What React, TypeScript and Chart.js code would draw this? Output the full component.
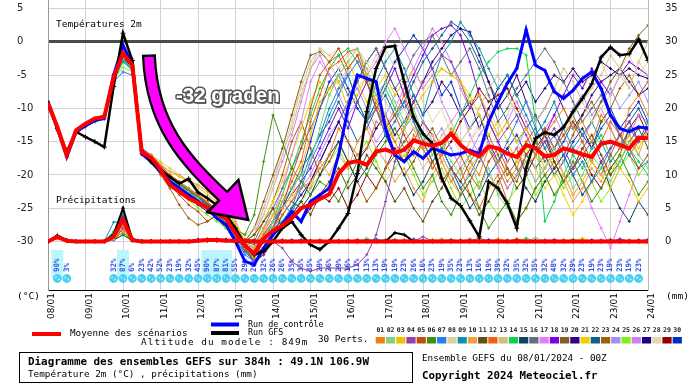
import { useEffect, useRef } from "react";
import { Chart, registerables } from "chart.js";

Chart.register(...registerables);

// hours from 08/01 00Z
const hours = [0,6,12,18,24,30,36,42,48,54,60,66,72,78,84,90,96,102,108,114,120,126,132,138,144,150,156,162,168,174,180,186,192,198,204,210,216,222,228,234,240,246,252,258,264,270,276,282,288,294,300,306,312,318,324,330,336,342,348,354,360,366,372,378,384];
const dateLabels = ["08/01","09/01","10/01","11/01","12/01","13/01","14/01","15/01","16/01","17/01","18/01","19/01","20/01","21/01","22/01","23/01","24/01"];
const precipProb = [0,90,3,0,0,0,0,32,87,6,23,42,52,23,19,32,45,90,87,81,55,29,26,32,26,26,35,35,35,29,26,29,16,13,13,13,19,19,23,26,16,23,19,35,23,13,16,19,39,32,35,32,35,32,48,32,29,23,19,23,19,23,19,23,0];

const meanTemp = [-9.2,-12.8,-17,-13.3,-12.3,-11.5,-11.3,-5.3,-1.7,-3.5,-16.6,-17.4,-19.2,-21.5,-22.5,-23.5,-24.2,-24.9,-25.8,-26.6,-28.8,-30.6,-31.8,-29.6,-28.4,-27.6,-26.5,-25,-24.5,-23.6,-22.9,-19.8,-18.2,-17.9,-18.5,-16.5,-16.2,-16.7,-16.2,-14.8,-15.3,-15.6,-15.2,-13.8,-15.5,-16.6,-17.2,-15.7,-16,-16.8,-17.3,-15.5,-16,-17.2,-17,-16,-16.4,-16.9,-17.3,-15.3,-15,-15.5,-16,-14.4,-14.5];
const controlTemp = [-9,-13,-17.3,-13.5,-12.6,-11.8,-11.5,-5,-0.5,-3.5,-16.8,-18,-19.5,-21,-22,-23,-24,-25,-26.5,-27.5,-30,-33,-33.5,-31,-29,-27.5,-25.5,-27,-24,-23,-22,-17,-10,-5,-5.5,-6,-13,-17,-18,-16.5,-17.5,-16,-16.5,-17,-16.8,-16.3,-16.8,-12,-9,-6.2,-4,1.8,-3.5,-4.3,-7.5,-8.5,-7.3,-5.5,-4.5,-7,-11,-13,-13.5,-12.8,-13];
const gfsTemp = [-9.5,-13,-16.5,-13.5,-14.3,-15,-15.8,-6.7,1.3,-2.8,-16.3,-18,-19.2,-20.3,-21.3,-20.6,-22.6,-23.5,-24.5,-26,-28,-30.5,-32,-31.5,-30,-28,-27,-29,-30.5,-31.2,-30,-28,-25.8,-19.8,-10.5,-4,-0.8,-0.6,-6,-11.3,-13.8,-15.3,-20.5,-23.5,-24.6,-26.9,-29.3,-21,-22,-24.3,-28,-19,-14.5,-13.6,-14,-12.8,-10.5,-8.5,-6.3,-2.3,-0.8,-2,-1.8,0.4,-2.8];

const meanPrecip = [0,0.7,0.1,0,0,0,0,0.7,3.3,0.2,0,0,0,0,0,0,0.1,0.2,0.2,0.1,0.1,0.1,0,0,0,0,0,0,0,0,0,0,0,0,0,0,0,0,0,0,0,0,0,0,0,0,0,0,0,0,0,0,0,0,0,0,0,0,0,0,0,0,0,0,0];
const controlPrecip = [0,0.8,0.1,0,0,0,0,0.8,3.5,0.2,0,0,0,0,0,0,0.1,0.2,0.2,0.2,0,0,0,0,0,0,0,0,0,0,0,0,0,0,0,0,0,0,0,0,0,0,0,0,0,0,0,0,0,0,0,0,0,0,0,0,0,0,0,0,0,0,0,0,0];
const gfsPrecip = [0,0.9,0.2,0,0,0,0,1,5,0.3,0,0,0,0,0,0,0.2,0.2,0.2,0.2,0,0,0,0,0,0,0,0,0,0,0,0,0,0,0,0,0,1.3,1,0,0,0,0,0,0,0,0,0,0,0,0,0,0,0,0,0,0,0,0,0,0,0,0,0,0];

const pert01T = [-9.2,-13.2,-17,-13.4,-12.4,-11.6,-11,-5,-1.5,-3.2,-16.3,-17.2,-18.8,-20,-21,-22,-23,-24,-25.5,-26.8,-28.8,-31,-32.5,-30,-28,-26,-24,-22,-21,-19,-17,-13,-15,-17,-16,-12,-13,-15,-18,-14,-16,-19,-17,-13,-15,-18,-20,-16,-18,-21,-19,-15,-17,-14,-12,-10,-13,-12,-15,-11,-13,-16,-10,-8,-11];
const pert02T = [-8.8,-12.8,-16.8,-13.6,-12.6,-11.9,-11.4,-5.6,-2.5,-4,-16.8,-17.8,-19.2,-20.6,-21.5,-22.6,-23.5,-24.8,-25.8,-27,-29,-30.5,-31.5,-29.5,-27,-24,-22,-20,-18,-13,-8,-5,-3,-1,-4,-8,-6,-9,-12,-10,-14,-17,-15,-18,-20,-17,-22,-19,-23,-25,-20,-18,-21,-19,-16,-18,-22,-20,-17,-19,-21,-18,-15,-17,-19];
const pert03T = [-9.1,-13,-17.2,-13.5,-12.5,-11.7,-11.2,-5.2,-1.2,-3,-16.5,-17,-18.3,-19.5,-20.3,-21,-21.8,-23,-24,-25.5,-27.5,-30,-31,-28.5,-26,-25,-23,-19,-14,-9,-7,-6,-10,-8,-5,-9,-12,-15,-13,-10,-8,-6,-4,-5,-6,-9,-8,-11,-14,-12,-15,-13,-16,-19,-17,-20,-23,-21,-18,-20,-22,-19,-21,-24,-22];
const pert04T = [-9,-13.1,-17.1,-13.3,-12.3,-11.5,-11,-4.8,-0.8,-2.8,-16,-17,-18.5,-20,-21,-22,-23,-24.2,-25.2,-26.3,-28.5,-31.5,-33,-32,-30,-31,-33,-34,-34.5,-34,-34,-34,-34,-33.5,-32,-29,-24,-18,-13,-9,-6,-4,-2,-3,-6,-10,-8,-12,-15,-13,-11,-14,-17,-15,-13,-16,-19,-17,-15,-18,-16,-14,-12,-15,-13];
const pert05T = [-9.3,-13.3,-17,-13.6,-12.7,-12,-11.5,-5.5,-2,-3.8,-16.6,-17.6,-19.5,-21.5,-23,-24.5,-25.5,-27,-26,-27.5,-29,-31,-32,-30,-28,-25,-20,-16,-10,-5,-3,-1,-4,-2,-6,-10,-13,-11,-14,-17,-15,-18,-21,-19,-17,-20,-22,-18,-16,-19,-21,-17,-15,-13,-16,-14,-12,-15,-18,-20,-17,-14,-16,-19,-17];
const pert06T = [-9,-12.9,-16.9,-13.4,-12.4,-11.7,-11.2,-5.4,-2.2,-3.6,-16.4,-17.4,-18.9,-20.4,-21.3,-22.3,-23.2,-24.3,-25.3,-26.4,-28.2,-29,-26,-18,-11,-15,-19,-21,-23,-21,-22,-24,-21,-18,-20,-17,-15,-13,-16,-19,-22,-20,-24,-26,-23,-21,-25,-28,-26,-24,-27,-25,-22,-20,-23,-21,-18,-21,-24,-22,-19,-17,-20,-23,-21];
const pert07T = [-9.2,-13,-17.1,-13.5,-12.5,-11.8,-11.3,-6,-4.5,-5,-17,-18,-19.5,-21,-22,-23,-24,-25,-26,-27.5,-29.5,-32,-33,-31,-28,-24,-26,-22,-18,-15,-11,-8,-5,-3,-6,-10,-14,-12,-9,-12,-15,-18,-16,-19,-22,-20,-17,-20,-18,-15,-12,-9,-13,-16,-14,-17,-20,-18,-21,-19,-16,-14,-17,-19,-18];
const pert08T = [-9,-13,-17,-13.4,-12.4,-11.6,-11.1,-5.1,-1.4,-3.3,-16.2,-17.3,-18.7,-20.2,-21.1,-22.1,-23.1,-24.1,-25.1,-26.2,-28,-29,-28,-26,-22,-17,-12,-7,-3,-1,-2,-4,-2,-1,-3,-6,-9,-12,-10,-13,-16,-14,-17,-20,-18,-15,-13,-16,-14,-12,-15,-18,-16,-19,-17,-14,-11,-9,-12,-10,-8,-5,-7,-3,-5];
const pert09T = [-9.4,-13.4,-17.3,-13.7,-12.8,-12,-11.6,-5.8,-3,-4.3,-16.9,-17.9,-19.3,-20.8,-21.7,-22.8,-23.8,-24.9,-26,-27.2,-29.2,-31.5,-32,-30,-28,-27,-25,-21,-17,-14,-10,-7,-5,-9,-12,-6,-3,-1,-4,-8,-11,-6,-2,0,3,1,-1,-4,-7,-5,-8,-11,-14,-12,-9,-13,-16,-14,-12,-15,-18,-16,-13,-15,-12];
const pert10T = [-9.1,-13.1,-17,-13.5,-12.5,-11.8,-11.2,-5.2,-1.6,-3.4,-16.4,-17,-18.5,-19.5,-20,-21,-21.5,-22.5,-23.5,-25,-27,-30,-31,-28,-26,-23,-24,-21,-22,-18,-20,-17,-19,-15,-13,-16,-18,-21,-19,-22,-24,-20,-18,-21,-23,-19,-17,-20,-22,-18,-16,-19,-17,-20,-23,-21,-24,-22,-19,-21,-18,-16,-14,-17,-13];
const pert11T = [-8.9,-12.9,-16.9,-13.3,-12.3,-11.5,-11,-5,-1,-2.9,-16.1,-17.1,-18.6,-20.1,-21.1,-22.1,-23.1,-24.1,-25.1,-26.1,-28.1,-30,-29,-27,-25,-28,-26,-24,-26,-23,-21,-19,-22,-20,-17,-19,-21,-24,-22,-25,-27,-24,-22,-19,-21,-23,-26,-24,-21,-19,-22,-20,-17,-15,-18,-21,-19,-16,-14,-17,-20,-18,-15,-13,-16];
const pert12T = [-9.2,-13.2,-17.1,-13.6,-12.6,-11.8,-11.3,-5.3,-1.8,-3.6,-16.7,-17.7,-19.2,-20.6,-21.6,-22.6,-23.7,-24.7,-25.7,-26.9,-28.9,-31,-31.5,-29,-27,-24,-21,-18,-12,-8,-4,-3,-1.5,-1,-5,-9,-13,-11,-8,-12,-16,-14,-18,-21,-19,-23,-25,-22,-20,-24,-27,-25,-22,-20,-18,-21,-19,-16,-18,-15,-12,-14,-17,-15,-12];
const pert13T = [-9,-13,-17,-13.4,-12.5,-11.7,-11.2,-5.2,-1.5,-3.3,-16.3,-17,-18,-19,-20,-20.8,-21.5,-22.5,-23.8,-25,-27.5,-30,-29,-25,-21,-17,-13,-8,-4,-1,-3,-6,-4,-2,-5,-8,-11,-15,-13,-16,-19,-17,-14,-12,-15,-13,-10,-7,-5,-8,-11,-9,-12,-10,-7,-4,-6,-9,-7,-5,-2,-4,-7,-3,0];
const pert14T = [-9.3,-13.3,-17.2,-13.6,-12.7,-11.9,-11.4,-5.7,-2.8,-4.2,-16.8,-17.8,-19.3,-20.7,-21.7,-22.7,-23.7,-24.8,-25.8,-27,-29,-31,-32,-30,-27,-23,-19,-15,-11,-7,-4,-2,-1,-3,-6,-9,-7,-10,-13,-11,-15,-18,-16,-14,-11,-8,-5,-3,-1.5,-1,-1,-2,-12,-27,-24,-20,-17,-19,-16,-14,-17,-19,-16,-18,-20];
const pert15T = [-9.1,-13.1,-17.1,-13.5,-12.5,-11.7,-11.3,-5.5,-2.6,-4,-16.6,-17.6,-19.1,-20.5,-21.5,-22.5,-23.5,-24.6,-25.6,-26.7,-28.7,-31,-33,-32,-29,-26,-24,-25,-23,-20,-17,-15,-18,-21,-19,-16,-14,-17,-20,-23,-21,-18,-16,-19,-22,-25,-23,-20,-18,-16,-19,-22,-24,-21,-19,-17,-20,-23,-21,-18,-22,-25,-27,-24,-26];
const pert16T = [-9,-13,-17,-13.4,-12.4,-11.6,-11.1,-5.1,-1.3,-3.1,-16.2,-17.2,-18.7,-20.2,-21.1,-22.1,-23.1,-24.2,-25.2,-26.3,-28.3,-30,-30.5,-28,-25,-22,-19,-16,-13,-10,-7,-5,-8,-6,-3,-1,-4,-7,-5,-2,0,1,-2,-5,-3,-1,-4,-8,-12,-10,-7,-5,-3,-1,-3,-6,-9,-12,-10,-8,-11,-14,-12,-15,-13];
const pert17T = [-9.2,-13.2,-17.2,-13.6,-12.6,-11.9,-11.4,-5.4,-0.5,-2.5,-16.5,-17.5,-19,-20.5,-21.5,-22.5,-23.5,-24.6,-25.6,-26.7,-28.7,-30.5,-31.5,-29,-26,-22,-17,-12,-6,-3,-5,-8,-4,-2,-5,-3,0,2,-1,-4,-7,-5,-9,-12,-10,-14,-17,-15,-19,-22,-20,-18,-21,-19,-16,-20,-23,-21,-25,-28,-31,-27,-23,-19,-17];
const pert18T = [-9,-13,-17,-13.4,-12.4,-11.6,-11.1,-5.1,-1.4,-3.2,-16.3,-17.3,-18.8,-20.3,-21.2,-22.2,-23.2,-24.3,-25.3,-26.4,-28.4,-30,-31,-29,-27,-25,-23,-21,-19,-16,-13,-10,-13,-9,-6,-10,-7,-4,-8,-5,-2,1,2,2.5,1,-3,-8,-12,-15,-18,-16,-20,-17,-14,-11,-8,-5,-7,-4,-6,-8,-5,-3,-4,-5];
const pert19T = [-9.1,-13,-17,-13.5,-12.6,-11.8,-11.3,-5.3,-1.9,-3.7,-16.6,-17.6,-19,-20.4,-21.4,-22.4,-23.4,-24.4,-25.4,-26.5,-28.4,-30,-28,-24,-20,-16,-11,-6,-2,-1.5,-3,-2,-5,-9,-12,-10,-14,-17,-15,-13,-16,-19,-17,-20,-23,-21,-18,-16,-19,-22,-20,-17,-15,-18,-16,-13,-11,-14,-12,-9,-6,-4,-1,1,2.5];
const pert20T = [-9.3,-13.3,-17.3,-13.7,-12.7,-11.9,-11.4,-5.5,-2.3,-4,-16.7,-17.7,-19.1,-20.6,-21.6,-22.6,-23.6,-24.7,-25.7,-26.9,-28.9,-31,-32,-31,-29,-27,-25,-23,-21,-18,-15,-12,-15,-18,-16,-13,-11,-14,-12,-9,-6,-3,-1,1,2,1.5,-2,-6,-10,-8,-5,-9,-12,-10,-7,-10,-13,-11,-8,-6,-5,-4,-6,-8,-7];
const pert21T = [-9,-13,-17,-13.4,-12.4,-11.6,-11.1,-5,-1.2,-3,-16.2,-17.2,-18.7,-20.1,-21.1,-22.1,-23.1,-24.1,-25.1,-26.2,-28.2,-30,-29,-27,-24,-21,-17,-13,-9,-6,-8,-5,-3,-6,-9,-7,-5,-8,-6,-4,-7,-5,-4,-5,-6,-8,-11,-14,-12,-15,-18,-16,-19,-22,-20,-23,-26,-24,-21,-18,-20,-17,-14,-16,-13];
const pert22T = [-9.2,-13.1,-17.1,-13.5,-12.5,-11.8,-11.3,-5.6,-2.7,-4.1,-16.7,-17.7,-19.1,-20.6,-21.6,-22.6,-23.6,-24.7,-25.7,-26.8,-28.8,-31,-32,-30,-27,-25,-22,-19,-17,-14,-12,-9,-12,-15,-13,-10,-8,-11,-9,-6,-3,-1,1,3,2,0,-3,-6,-9,-12,-15,-13,-11,-14,-17,-15,-12,-14,-16,-13,-11,-14,-12,-10,-13];
const pert23T = [-9.1,-13.1,-17,-13.5,-12.5,-11.7,-11.2,-5.3,-1.7,-3.5,-16.5,-18,-20,-22,-24.5,-26.5,-27.5,-27,-26,-27.5,-30,-30.5,-30,-27,-24,-20,-15,-12,-16,-20,-18,-15,-18,-21,-24,-22,-19,-17,-20,-18,-15,-13,-16,-19,-21,-18,-16,-14,-17,-20,-18,-15,-13,-16,-19,-17,-14,-11,-9,-12,-10,-7,-5,-8,-6];
const pert24T = [-9,-13,-17,-13.4,-12.4,-11.6,-11.1,-5.2,-1.6,-3.4,-16.4,-17.4,-18.9,-20.4,-21.3,-22.3,-23.3,-24.4,-25.4,-26.5,-28.5,-30.5,-31,-29,-28,-26,-24,-22,-20,-17,-14,-12,-9,-7,-10,-13,-11,-8,-6,-9,-12,-15,-13,-16,-19,-17,-14,-12,-15,-18,-16,-13,-11,-14,-16,-13,-10,-8,-11,-9,-7,-10,-8,-6,-9];
const pert25T = [-9.2,-13.2,-17.1,-13.6,-12.6,-11.8,-11.3,-5.6,-3.8,-4.5,-16.8,-18.3,-19.8,-21.5,-22.5,-23.8,-25,-26,-27,-28,-30,-31.5,-32.5,-31,-29,-27,-25,-24,-22,-20,-18,-16,-19,-17,-15,-18,-21,-19,-17,-20,-23,-21,-19,-22,-25,-23,-21,-24,-26,-24,-22,-20,-23,-21,-19,-22,-20,-18,-21,-24,-22,-19,-17,-20,-18];
const pert26T = [-9.1,-13,-17,-13.5,-12.5,-11.8,-11.2,-5.3,-1.3,-3.2,-16.3,-17.3,-18.8,-20.3,-21.3,-22.3,-23.3,-24.4,-25.4,-26.5,-28.5,-30,-29,-26,-22,-18,-14,-9,-4,-2,-5,-8,-11,-9,-12,-15,-13,-10,-7,-4,-1,2,0,-3,-7,-10,-8,-11,-14,-12,-9,-12,-15,-13,-11,-14,-17,-15,-12,-10,-13,-16,-14,-11,-12];
const pert27T = [-9.3,-13.3,-17.2,-13.7,-12.7,-12,-11.5,-5.6,-2.4,-4,-16.8,-18,-19.5,-21,-22.5,-23.5,-24.5,-25.5,-26.5,-28,-30,-31.5,-33,-32,-30,-28,-26,-24,-21,-18,-15,-12,-9,-6,-3,-1,-4,-7,-10,-8,-11,-9,-6,-8,-11,-9,-13,-10,-7,-5,-8,-6,-9,-7,-5,-6,-4,-6,-5,-3,-4,-5,-4,-5,-5.5];
const pert28T = [-9,-13,-17,-13.4,-12.4,-11.6,-11.1,-5.1,-1.5,-3.3,-16.3,-17.3,-18.8,-20.3,-21.2,-22.2,-23.2,-24.3,-25.3,-26.4,-28.4,-30,-28,-25,-21,-16,-11,-7,-3,-1,-2,-1,-4,-7,-5,-2,-1,-4,-8,-6,-9,-12,-10,-14,-17,-15,-12,-10,-13,-11,-8,-11,-14,-12,-9,-6,-4,-7,-5,-3,-6,-4,-2,-5,-3];
const pert29T = [-9.2,-13.2,-17.1,-13.6,-12.6,-11.8,-11.3,-5.4,-2,-3.8,-16.6,-17.6,-19.1,-20.6,-21.5,-22.5,-23.5,-24.6,-25.6,-26.7,-28.7,-31,-32,-31,-29,-28,-26,-27,-25,-23,-24,-22,-25,-23,-20,-22,-19,-16,-18,-15,-12,-14,-17,-15,-12,-10,-7,-9,-8,-7,-10,-13,-16,-14,-18,-21,-19,-17,-20,-22,-19,-17,-13,-11,-14];
const pert30T = [-9.1,-13.1,-17.1,-13.5,-12.5,-11.7,-11.2,-5.4,-2.2,-3.8,-16.6,-17.6,-19,-20.5,-21.5,-22.5,-23.5,-24.5,-25.5,-26.6,-28.6,-31,-32.5,-30,-28,-25,-22,-20,-15,-10,-6,-4,-7,-10,-12,-9,-6,-3,-1,1,-1,-4,-8,-6,-10,-13,-11,-15,-18,-16,-14,-17,-19,-17,-20,-18,-15,-13,-16,-12,-10,-13,-11,-9,-12];

const pert01P = [0,0.8,0.1,0,0,0,0,0.6,2.5,0.2,0,0,0.1,0,0,0,0.1,0.2,0.1,0.2,0,0.3,0,0,0,0.1,0,0,0,0,0,0,0.2,0,0,0,0,0,0.3,0,0,0,0,0,0,0,0,0,0.4,0,0,0,0,0,0,0.2,0,0,0,0,0.1,0,0,0,0];
const pert02P = [0,0.6,0,0,0,0,0,0.3,3,0.1,0,0.1,0,0,0,0,0,0.3,0.2,0.1,0.2,0,0,0,0,0,0,0,0.2,0,0,0,0,0,0.5,0,0,0,0,0,0,0,0.2,0,0,0,0,0,0,0,0,0,0.6,0,0,0,0,0,0,0.2,0,0,0,0,0];
const pert03P = [0,0.9,0.2,0,0,0,0,0.4,1.5,0.3,0,0,0,0.1,0,0,0,0.1,0.3,0,0,0.2,0.1,0,0,0,0,0,0,0,0,0,0,0,0,0,0.2,0,0,0,0,0.3,0,0,0,0,0,0,0,0,0,0,0,0,0,0,0,0.5,0,0,0,0,0.2,0,0];
const pert04P = [0,0.5,0,0,0,0,0,0.2,2,0.4,0.1,0,0,0,0,0,0.2,0.2,0,0.3,0,0,0,0,0,0,0,0,0,0,0,0,0,0,0,0,0,0,0,0,0.7,0,0,0,0,0,0.2,0,0,0,0,0,0,0,0.3,0,0,0,0,0,0,0.4,0,0,0];
const pert05P = [0,0.7,0.1,0,0,0,0,0.9,3.5,0.2,0,0,0,0,0.1,0,0,0.4,0.2,0.1,0,0.3,0,0,0.2,0,0,0,0,0,0,0,0,0.3,0,0,0,0,0,0,0,0,0,0,0,0.2,0,0,0,0,0.4,0,0,0,0,0,0,0,0,0,0.2,0,0,0,0];
const pert06P = [0,0.6,0,0,0,0,0,0.3,1,0.1,0,0,0,0,0,0,0.1,0,0.2,0.2,0.3,0,0,0.1,0,0,0,0,0,0,0,0,0,0,0,0,0,0.3,0,0,0,0,0,0,0.2,0,0,0,0,0,0,0,0,0,0,0,0.3,0,0,0,0,0,0,0.2,0];
const pert07P = [0,0.9,0.2,0,0,0,0,1.2,4,0.5,0,0.1,0,0,0,0,0.3,0.2,0.4,0.1,0,0,0.2,0,0,0,0,0.3,0,0,0,0,0,0,0,0,0,0,0,0.4,0,0,0,0,0,0,0,0.3,0,0,0,0,0,0,0,0,0,0,0.2,0,0,0,0,0,0.3];
const pert08P = [0,0.4,0,0,0,0,0,0.2,2,0.1,0,0,0,0.1,0,0,0,0.2,0,0.1,0,0.1,0,0,0,0,0,0,0,0,0,0.3,0,0,0,0,0,0,0,0,0,0,0,0.2,0,0,0,0,0,0,0,0,0,0.3,0,0,0,0,0,0,0,0,0,0,0];
const pert09P = [0,0.8,0.1,0,0,0,0,2.9,3,0.3,0,0,0.1,0,0,0,0.2,0.3,0.2,0.2,0.1,0,0,0,0,0,0.2,0,0,0,0,0,0,0,0,0.4,0,0,0,0,0,0,0,0,0,0,0,0,0,0.2,0,0,0,0,0,0,0,0,0,0,0.3,0,0,0,0];
const pert10P = [0,0.7,0,0,0,0,0,0.5,2.5,0.2,0,0,0,0,0,0,0,0.1,0.3,0,0.2,0,0,0,0,0,0,0,0,0.3,0,0,0,0,0,0,0,0,0,0,0,0,0.4,0,0,0,0,0,0,0,0,0.2,0,0,0,0,0,0,0,0,0,0,0,0,0];
const pert11P = [0,0.5,0.1,0,0,0,0,0.3,1.5,0.1,0,0,0,0,0,0.1,0,0.2,0.1,0.2,0,0,0.1,0,0,0,0,0,0,0,0,0,0,0,0,0,0,0,0.2,0,0,0,0,0,0,0,0.5,0,0,0,0,0,0,0,0,0,0,0,0,0,0,0.2,0,0,0];
const pert12P = [0,0.8,0.1,0,0,0,0,0.7,3,0.3,0,0.1,0,0,0,0,0.2,0.2,0.2,0.3,0,0.2,0,0,0,0.3,0,0,0,0,0,0,0,0,0,0,0,0,0,0,0,0,0,0,0,0.3,0,0,0,0,0,0,0,0,0,0,0,0.2,0,0,0,0,0,0,0];
const pert13P = [0,0.6,0,0,0,0,0,0.4,2,0.2,0,0,0,0,0.1,0,0,0.3,0,0.1,0.2,0,0,0,0,0,0,0,0,0,0,0,0.2,0,0,0,0,0,0,0,0,0,0,0,0,0,0,0,0.3,0,0,0,0,0,0,0,0,0,0,0,0.4,0,0,0,0];
const pert14P = [0,0.9,0.2,0,0,0,0,1.5,4.5,0.4,0,0,0.1,0,0,0,0.1,0.4,0.3,0.2,0,0.3,0,0,0,0,0,0,0,0,0,0,0,0,0,0,0,0.2,0,0,0,0,0,0,0,0,0,0,0,0,0,0.5,0,0,0,0,0,0,0,0,0,0,0.2,0,0];
const pert15P = [0,0.5,0,0,0,0,0,0.2,1,0.1,0,0,0,0,0,0,0.2,0.1,0.2,0,0,0,0,0.2,0,0,0,0,0,0,0,0,0,0,0.3,0,0,0,0,0,0,0,0,0,0,0,0,0,0,0,0,0,0,0,0.2,0,0,0,0,0,0,0,0,0,0.3];
const pert16P = [0,0.7,0.1,0,0,0,0,0.6,2.5,0.2,0,0,0,0.1,0,0,0,0.2,0.2,0.2,0,0,0.2,0,0,0,0,0,0.2,0,0,0,0,0,0,0,0,0,0,0,0,0.3,0,0,0,0,0,0,0,0,0,0,0,0,0,0,0.2,0,0,0,0,0,0,0,0];
const pert17P = [0,0.8,0.1,0,0,0,0,0.8,3,0.3,0,0,0,0,0,0,0.1,0.3,0.1,0.1,0.3,0,0,0,0,0,0,0,0,0,0,0,0,0.2,0,0,0,0,0,0,0,0,0,0,0,0.4,0,0,0,0,0,0,0,0,0,0,0,0,0,0.3,0,0,0,0,0];
const pert18P = [0,0.6,0,0,0,0,0,0.4,2,0.2,0,0,0.1,0,0,0,0.2,0.2,0.2,0.2,0,0.2,0,0,0,0,0,0,0,0,0,0,0,0,0,0,0.3,0,0,0,0,0,0,0,0,0,0,0,0,0,0,0,0.2,0,0,0,0,0,0,0,0,0,0,0.2,0];
const pert19P = [0,0.5,0.1,0,0,0,0,0.3,1.5,0.1,0,0,0,0,0,0,0,0.1,0.3,0,0,0,0,0,0.2,0,0,0,0,0,0,0,0,0,0,0,0,0,0,0,0.2,0,0,0,0,0,0,0,0,0,0,0,0,0.3,0,0,0,0,0,0,0,0,0,0,0];
const pert20P = [0,0.9,0.2,0,0,0,0,1,3.5,0.4,0,0.1,0,0,0,0,0.3,0.3,0.2,0.3,0,0,0,0,0,0,0.2,0,0,0,0,0,0,0,0,0,0,0,0,0,0,0,0,0.3,0,0,0,0,0,0,0,0,0,0,0,0,0,0,0.2,0,0,0,0,0,0];
const pert21P = [0,0.7,0.1,0,0,0,0,0.5,2,0.2,0,0,0,0,0,0.1,0,0.2,0.1,0.1,0.2,0,0,0,0,0,0,0,0,0,0,0,0,0,0,0,0,0,0,0.3,0,0,0,0,0,0,0,0,0,0,0,0,0,0,0,0.3,0,0,0,0,0,0,0,0,0];
const pert22P = [0,0.8,0.1,0,0,0,0,1.4,4,0.4,0,0,0,0,0,0,0.2,0.3,0.3,0.2,0,0.3,0,0,0,0,0,0,0,0,0,0,0,0,0,0,0,0,0,0,0,0,0.2,0,0,0,0,0,0,0,0,0,0,0,0,0,0,0,0,0,0,0.3,0,0,0];
const pert23P = [0,0.6,0,0,0,0,0,0.6,2.5,0.2,0,0,0.1,0,0,0,0,0.2,0.2,0.1,0,0,0.2,0,0,0,0,0,0,0,0,0,0,0,0,0.2,0,0,0,0,0,0,0,0,0,0,0,0,0,0,0.3,0,0,0,0,0,0,0,0,0,0,0,0,0,0.2];
const pert24P = [0,0.4,0,0,0,0,0,0.2,1,0.1,0,0,0,0,0,0,0.1,0.1,0.1,0.2,0,0,0,0,0,0,0,0,0,0,0,0,0,0,0,0,0,0,0,0,0,0,0,0,0,0,0,0.2,0,0,0,0,0,0,0,0,0,0,0,0,0,0,0,0,0];
const pert25P = [0,0.8,0.2,0,0,0,0,0.8,3,0.3,0,0,0,0.1,0,0,0.2,0.3,0.2,0.2,0.2,0,0,0,0,0,0,0,0,0,0,0,0,0,0,0,0,0,0,0,0,0,0,0,0.2,0,0,0,0,0,0,0,0,0,0,0,0,0,0,0,0,0,0,0,0];
const pert26P = [0,0.7,0.1,0,0,0,0,0.4,2,0.2,0,0,0,0,0,0,0,0.2,0.2,0.1,0,0,0,0,0,0,0,0,0,0.2,0,0,0,0,0,0,0,0,0,0,0,0,0,0,0,0,0,0,0,0,0,0,0,0,0,0,0.2,0,0,0,0,0,0,0,0];
const pert27P = [0,0.9,0.2,0,0,0,0,1.1,3.5,0.4,0,0.1,0,0,0,0,0.2,0.3,0.3,0.2,0,0.2,0,0,0,0,0,0,0,0,0,0,0,0,0,0,0,0,0,0,0,0,0,0,0,0,0,0,0,0,0,0,0,0,0,0,0,0,0,0,0,0,0,0,0];
const pert28P = [0,0.5,0,0,0,0,0,0.3,1.5,0.1,0,0,0,0,0,0,0.1,0.2,0,0.1,0,0,0,0,0,0,0,0,0,0,0,0,0,0,0,0,0,0,0,0,0,0,0,0,0,0,0,0,0,0,0,0,0,0,0,0,0,0,0,0,0,0,0,0,0];
const pert29P = [0,0.7,0.1,0,0,0,0,0.6,2.5,0.2,0,0,0,0,0,0,0.2,0.2,0.2,0.2,0.2,0,0,0,0,0,0,0,0,0,0,0,0,0,0,0,0,0,0,0,0,0,0,0,0,0,0,0,0,0,0,0,0,0,0,0,0,0,0,0,0,0,0,0,0];
const pert30P = [0,0.8,0.1,0,0,0,0,0.7,3,0.3,0,0,0,0,0.1,0,0.2,0.2,0.3,0.2,0,0.2,0,0,0,0,0,0,0,0,0,0,0,0,0,0,0,0,0,0,0,0,0,0,0,0,0,0,0,0,0,0,0,0,0,0,0,0,0,0,0,0,0,0,0];

const pertColors = ["#f08010","#80d080","#f0c000","#9040b0","#c05010","#409010","#2080f0","#e0d0a0","#1090b0","#f0a040","#605010","#f06010","#d0c080","#10d050","#104060","#607080","#e080f0","#8000e0","#806020","#300080","#f0d000","#106090","#a06010","#a090f0","#80f010","#d080f0","#200080","#e0d8b0","#900000","#0030c0"];
const pertNames = ["01","02","03","04","05","06","07","08","09","10","11","12","13","14","15","16","17","18","19","20","21","22","23","24","25","26","27","28","29","30"];

const pertTemps = [pert01T,pert02T,pert03T,pert04T,pert05T,pert06T,pert07T,pert08T,pert09T,pert10T,pert11T,pert12T,pert13T,pert14T,pert15T,pert16T,pert17T,pert18T,pert19T,pert20T,pert21T,pert22T,pert23T,pert24T,pert25T,pert26T,pert27T,pert28T,pert29T,pert30T];
const pertPrecips = [pert01P,pert02P,pert03P,pert04P,pert05P,pert06P,pert07P,pert08P,pert09P,pert10P,pert11P,pert12P,pert13P,pert14P,pert15P,pert16P,pert17P,pert18P,pert19P,pert20P,pert21P,pert22P,pert23P,pert24P,pert25P,pert26P,pert27P,pert28P,pert29P,pert30P];

const MONO = '"DejaVu Sans Mono", monospace';

const pts = (arr: number[]) => hours.map((h, i) => ({ x: h, y: arr[i] }));

const overlay = {
  id: "overlay",
  beforeDatasetsDraw(chart: any) {
    const c = chart.ctx;
    const xs = chart.scales.x;
    c.save();
    for (let i = 0; i < hours.length; i++) {
      const p = precipProb[i];
      if (!p) continue;
      const x = xs.getPixelForValue(hours[i]);
      if (p >= 60) {
        c.fillStyle = "#bdf5fd";
        c.fillRect(x - 6, 250, 12, 28);
      }
    }
    for (let i = 0; i < hours.length; i++) {
      const p = precipProb[i];
      if (!p) continue;
      const x = xs.getPixelForValue(hours[i]);
      c.fillStyle = "#4ccff0";
      c.beginPath();
      c.arc(x, 278.5, 4.4, 0, Math.PI * 2);
      c.fill();
    }
    for (let i = 0; i < hours.length; i++) {
      const p = precipProb[i];
      if (!p) continue;
      const x = xs.getPixelForValue(hours[i]);
      c.fillStyle = "#a8eefb";
      c.beginPath();
      c.arc(x - 1.5, 277.5, 1, 0, Math.PI * 2);
      c.arc(x + 1.5, 279.5, 1, 0, Math.PI * 2);
      c.fill();
      c.save();
      c.translate(x, 272);
      c.rotate(-Math.PI / 2);
      c.font = `bold 7.5px ${MONO}`;
      c.fillStyle = "#2f4fe6";
      c.textAlign = "left";
      c.textBaseline = "middle";
      c.fillText(p + "%", 0, 0);
      c.restore();
    }
    c.restore();
  },
  afterDatasetsDraw(chart: any) {
    const c = chart.ctx;
    c.save();
    const P0 = [149, 57], P1 = [152, 125], P2 = [185, 160], P3 = [224, 197];
    const dx = P3[0] - P2[0], dy = P3[1] - P2[1];
    const L = Math.hypot(dx, dy);
    const ux = dx / L, uy = dy / L;
    const px = -uy, py = ux;
    const tip = [P3[0] + ux * 31, P3[1] + uy * 31];
    const b1 = [P3[0] + px * 20, P3[1] + py * 20];
    const b2 = [P3[0] - px * 20, P3[1] - py * 20];
    const shaft = (start: number[], end: number[]) => {
      c.beginPath();
      c.moveTo(start[0], start[1]);
      c.lineTo(P0[0], P0[1]);
      c.bezierCurveTo(P1[0], P1[1], P2[0], P2[1], P3[0], P3[1]);
      c.lineTo(end[0], end[1]);
    };
    const head = () => {
      c.beginPath();
      c.moveTo(b1[0], b1[1]);
      c.lineTo(tip[0], tip[1]);
      c.lineTo(b2[0], b2[1]);
      c.closePath();
    };
    c.lineCap = "butt";
    c.lineJoin = "miter";
    c.strokeStyle = "#000";
    c.lineWidth = 14;
    shaft([148.9, 54.5], P3);
    c.stroke();
    head();
    c.lineWidth = 5;
    c.fillStyle = "#000";
    c.fill();
    c.stroke();
    c.strokeStyle = "#ff00ff";
    c.lineWidth = 9.5;
    shaft(P0, [P3[0] + ux * 4, P3[1] + uy * 4]);
    c.stroke();
    head();
    c.fillStyle = "#ff00ff";
    c.fill();

    c.font = 'bold 20.5px "Liberation Sans", Arial, sans-serif';
    c.textAlign = "left";
    c.textBaseline = "alphabetic";
    c.lineJoin = "round";
    c.fillStyle = "#777";
    c.fillText("-32 graden", 177.5, 103.5);
    c.strokeStyle = "#555";
    c.lineWidth = 3;
    c.strokeText("-32 graden", 176, 102);
    c.fillStyle = "#fff";
    c.fillText("-32 graden", 176, 102);
    c.restore();
  },
  afterDraw(chart: any) {
    const c = chart.ctx;
    c.save();
    c.textBaseline = "middle";
    c.textAlign = "left";
    const t = (s: string, x: number, y: number, font: string, color = "#000") => {
      c.font = font;
      c.fillStyle = color;
      c.fillText(s, x, y);
    };
    const ln = (x1: number, y1: number, x2: number, y2: number, col: string, w: number) => {
      c.strokeStyle = col;
      c.lineWidth = w;
      c.beginPath();
      c.moveTo(x1, y1);
      c.lineTo(x2, y2);
      c.stroke();
    };
    t("Températures 2m", 56, 25, `9.5px ${MONO}`);
    t("Précipitations", 56, 201, `9.5px ${MONO}`);
    t("(°C)", 17, 297, `9.5px ${MONO}`);
    t("(mm)", 666, 297, `9.5px ${MONO}`);

    ln(32, 334, 61, 334, "#ff0000", 4);
    ln(211, 324.5, 239, 324.5, "#0000ff", 4);
    ln(211, 333, 239, 333, "#000000", 4);
    t("Moyenne des scénarios", 70, 334, `9.3px ${MONO}`);
    t("Run de contrôle", 248, 325, `8.4px ${MONO}`);
    t("Run GFS", 248, 333, `8.4px ${MONO}`);
    (c as any).letterSpacing = "1.1px";
    t("Altitude du modele : 849m", 141, 343, `9.3px ${MONO}`);
    (c as any).letterSpacing = "0px";
    t("30 Perts.", 318, 340, `9.3px ${MONO}`);

    for (let i = 0; i < pertColors.length; i++) {
      const x0 = 375.7 + i * 10.24;
      c.fillStyle = pertColors[i];
      c.fillRect(x0, 337, 9.2, 6.5);
      c.font = `bold 6.5px ${MONO}`;
      c.fillStyle = "#222";
      c.textAlign = "center";
      c.fillText(pertNames[i], x0 + 4.6, 330.5);
      c.textAlign = "left";
    }

    c.strokeStyle = "#000";
    c.lineWidth = 1;
    c.strokeRect(19.5, 352.5, 393, 30);
    t("Diagramme des ensembles GEFS sur 384h : 49.1N 106.9W", 28, 362.5, `bold 10.9px ${MONO}`);
    t("Température 2m (°C) , précipitations (mm)", 28, 375, `9.3px ${MONO}`);
    t("Ensemble GEFS du 08/01/2024 - 00Z", 422, 359, `9.3px ${MONO}`);
    t("Copyright 2024 Meteociel.fr", 422, 376.5, `bold 10.8px ${MONO}`);
    c.restore();
  },
};

export default function App() {
  const ref = useRef<HTMLCanvasElement | null>(null);
  useEffect(() => {
    if (!ref.current) return;
    const datasets: any[] = [];
    datasets.push({ data: pts(meanTemp), yAxisID: "y", borderColor: "#ff0000", borderWidth: 4, pointRadius: 0 });
    datasets.push({ data: pts(meanPrecip), yAxisID: "y2", borderColor: "#ff0000", borderWidth: 4, pointRadius: 0 });
    datasets.push({ data: pts(gfsTemp), yAxisID: "y", borderColor: "#000000", borderWidth: 2.5, pointStyle: "cross", pointRadius: 2.5, pointBorderWidth: 1, pointBorderColor: "#000000" });
    datasets.push({ data: pts(gfsPrecip), yAxisID: "y2", borderColor: "#000000", borderWidth: 2, pointStyle: "cross", pointRadius: 2, pointBorderWidth: 1, pointBorderColor: "#000000" });
    datasets.push({ data: pts(controlTemp), yAxisID: "y", borderColor: "#0000ff", borderWidth: 3, pointStyle: "cross", pointRadius: 2, pointBorderWidth: 1, pointBorderColor: "#0000ff" });
    datasets.push({ data: pts(controlPrecip), yAxisID: "y2", borderColor: "#0000ff", borderWidth: 2.5, pointStyle: "cross", pointRadius: 2, pointBorderWidth: 1, pointBorderColor: "#0000ff" });
    for (let m = 0; m < pertTemps.length; m++) {
      datasets.push({ data: pts(pertTemps[m]), yAxisID: "y", borderColor: pertColors[m], borderWidth: 1, pointStyle: "cross", pointRadius: 1.5, pointBorderWidth: 1, pointBorderColor: pertColors[m] });
    }
    for (let m = 0; m < pertPrecips.length; m++) {
      datasets.push({ data: pts(pertPrecips[m]), yAxisID: "y2", borderColor: pertColors[m], borderWidth: 1, pointStyle: "cross", pointRadius: 1.5, pointBorderWidth: 1, pointBorderColor: pertColors[m] });
    }

    const isZero = (v: number) => Math.abs(v) < 1e-6;
    const chart = new Chart(ref.current, {
      type: "line",
      data: { datasets },
      plugins: [overlay],
      options: {
        responsive: false,
        animation: false,
        events: [],
        layout: { autoPadding: false, padding: { left: 17, right: 0, top: 0, bottom: 0 } },
        plugins: { legend: { display: false }, tooltip: { enabled: false } },
        elements: { line: { tension: 0, fill: false } },
        scales: {
          x: {
            type: "linear",
            min: 0,
            max: 384,
            ticks: {
              stepSize: 24,
              autoSkip: false,
              maxRotation: 90,
              minRotation: 90,
              padding: 3,
              labelOffset: 4,
              color: "#000",
              font: { size: 9, family: '"DejaVu Sans", sans-serif' },
              callback: (v: any) => dateLabels[Math.round(Number(v) / 24)] ?? "",
            },
            grid: { color: "#d2d2d2", drawTicks: false },
            border: { color: "#000", width: 1 },
            afterFit: (s: any) => { s.height = 94; s.paddingLeft = 0; s.paddingRight = 0; },
          },
          y: {
            position: "left",
            min: -37.3,
            max: 6.3,
            ticks: {
              stepSize: 5,
              includeBounds: false,
              crossAlign: "far",
              padding: 0,
              color: "#222",
              font: { size: 10, family: '"DejaVu Sans", sans-serif' },
              callback: (v: any) => (Number(v) >= -30 ? String(v) : ""),
            },
            grid: {
              drawTicks: false,
              color: (ctx: any) => {
                const v = ctx.tick ? ctx.tick.value : 1;
                if (isZero(v)) return "#4a4a4a";
                if (v < -30) return "rgba(0,0,0,0)";
                return "#d2d2d2";
              },
              lineWidth: (ctx: any) => (ctx.tick && isZero(ctx.tick.value) ? 3 : 1),
            },
            border: { color: "#999" },
            afterFit: (s: any) => { s.width = 31; s.paddingTop = 0; s.paddingBottom = 0; },
          },
          y2: {
            position: "right",
            min: -7.3,
            max: 36.3,
            ticks: {
              stepSize: 5,
              includeBounds: false,
              padding: 17,
              color: "#222",
              font: { size: 10, family: '"DejaVu Sans", sans-serif' },
              callback: (v: any) => (Number(v) >= 0 ? String(v) : ""),
            },
            grid: { drawOnChartArea: false, drawTicks: false },
            border: { color: "#bbb" },
            afterFit: (s: any) => { s.width = 46; s.paddingTop = 0; s.paddingBottom = 0; },
          },
        },
      } as any,
    });
    return () => chart.destroy();
  }, []);

  return (
    <div style={{ position: "absolute", left: 0, top: 0, width: 694, height: 384, background: "#fff" }}>
      <canvas ref={ref} width={694} height={384} style={{ display: "block" }} />
    </div>
  );
}
